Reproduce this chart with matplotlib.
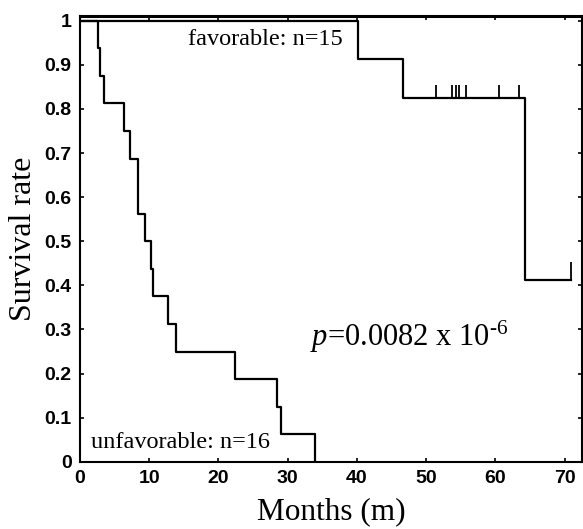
import numpy as np
import matplotlib
matplotlib.use('Agg')
import matplotlib.pyplot as plt

# unfavorable group (n=16)
unfav_t = [0, 2.6, 2.9, 3.5, 6.4, 7.3, 8.4, 9.4, 10.3, 10.5, 12.8, 13.9, 22.4, 28.4, 29.0, 34.0]
unfav_s = [1, 0.9375, 0.875, 0.8125, 0.75, 0.6875, 0.5625, 0.5, 0.4375, 0.375, 0.3125, 0.25, 0.1875, 0.125, 0.0625, 0]

# favorable group (n=15)
fav_t = [0, 40.1, 46.7, 64.3, 71.0]
fav_s = [1, 0.914, 0.825, 0.4125, 0.4125]
fav_cens_t = [51.5, 53.8, 54.3, 54.8, 55.8, 60.6, 63.4]
fav_cens_s = 0.825
end_cens_t = [71.0]
end_cens_s = 0.4125

xticks = [0, 10, 20, 30, 40, 50, 60, 70]
yticks = [0, 0.1, 0.2, 0.3, 0.4, 0.5, 0.6, 0.7, 0.8, 0.9, 1]
ylabels = ['0', '0.1', '0.2', '0.3', '0.4', '0.5', '0.6', '0.7', '0.8', '0.9', '1']

plt.rcParams['mathtext.fontset'] = 'custom'
plt.rcParams['mathtext.rm'] = 'Liberation Serif'
plt.rcParams['mathtext.it'] = 'Liberation Serif:italic'

fig = plt.figure(figsize=(5.83, 5.29), dpi=100)
ax = fig.add_axes([0.137, 0.127, 0.861, 0.843])

ax.plot(unfav_t, unfav_s, drawstyle='steps-post', color='black', lw=1.6)
ax.plot(fav_t, fav_s, drawstyle='steps-post', color='black', lw=1.6)
# censored marks
ax.vlines(fav_cens_t, fav_cens_s, fav_cens_s + 0.03, color='black', lw=1.3)
ax.vlines(end_cens_t, end_cens_s, end_cens_s + 0.04, color='black', lw=1.3)

ax.set_xlim(0, 72.5)
ax.set_ylim(0, 1.011)
ax.set_xticks(xticks)
ax.set_yticks(yticks)
ax.set_yticklabels(ylabels)
ax.tick_params(direction='in', length=3, width=1.2, top=True, right=True,
               labelsize=14, pad=6)
for lab in ax.get_xticklabels() + ax.get_yticklabels():
    lab.set_fontfamily('Liberation Sans')
    lab.set_fontweight('heavy')
for s in ax.spines.values():
    s.set_linewidth(1.5)
ax.spines['top'].set_linewidth(2.2)

ax.set_xlabel('Months (m)', fontsize=22.5, family='Liberation Serif')
ax.set_ylabel('Survival rate', fontsize=23, family='Liberation Serif')
ax.xaxis.set_label_coords(0.5, -0.08)
ax.yaxis.set_label_coords(-0.083, 0.5)

ax.text(15.6, 0.957, 'favorable: n=15', fontsize=17.5, family='Liberation Serif',
        ha='left', va='center')
ax.text(1.6, 0.044, 'unfavorable: n=16', fontsize=17.5, family='Liberation Serif',
        ha='left', va='center')
ax.text(33.2, 0.284, r'$\it{p}$=0.0082 x 10$^{\text{-6}}$', fontsize=22,
        family='Liberation Serif', ha='left', va='center')

fig.savefig('out.png', dpi=100)
